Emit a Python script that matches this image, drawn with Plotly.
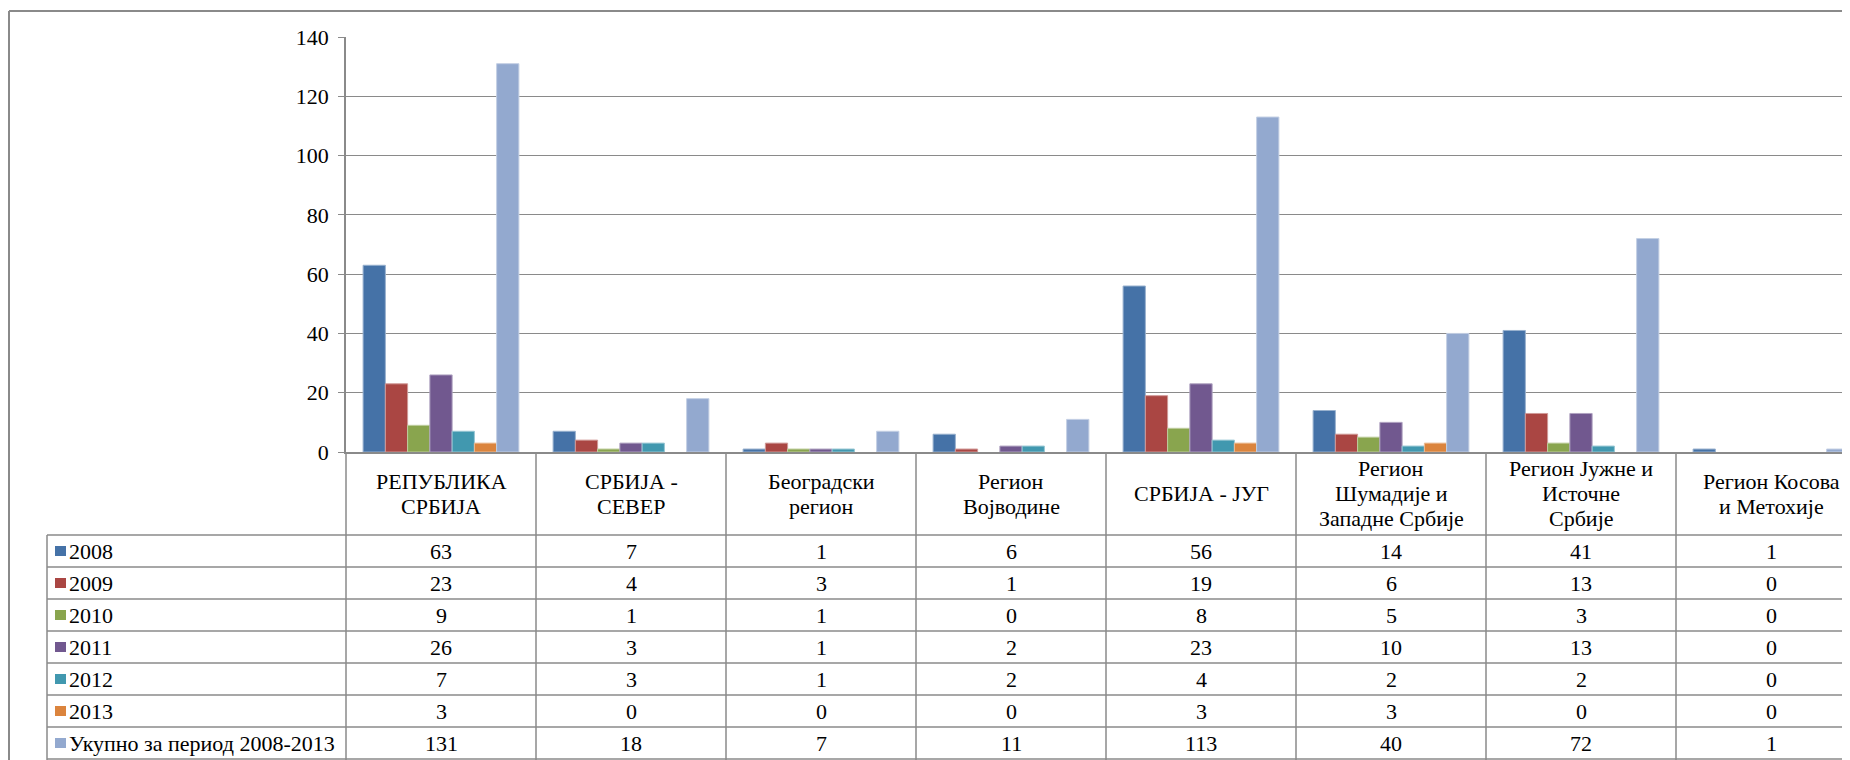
import plotly.graph_objects as go

categories = [
    "РЕПУБЛИКА<br>СРБИЈА",
    "СРБИЈА -<br>СЕВЕР",
    "Београдски<br>регион",
    "Регион<br>Војводине",
    "СРБИЈА - ЈУГ",
    "Регион<br>Шумадије и<br>Западне Србије",
    "Регион Јужне и<br>Источне<br>Србије",
    "Регион Косова<br>и Метохије",
]
series_names = ["2008", "2009", "2010", "2011", "2012", "2013", "Укупно за период 2008-2013"]

v2008 = [63, 7, 1, 6, 56, 14, 41, 1]
v2009 = [23, 4, 3, 1, 19, 6, 13, 0]
v2010 = [9, 1, 1, 0, 8, 5, 3, 0]
v2011 = [26, 3, 1, 2, 23, 10, 13, 0]
v2012 = [7, 3, 1, 2, 4, 2, 2, 0]
v2013 = [3, 0, 0, 0, 3, 3, 0, 0]
v_total = [131, 18, 7, 11, 113, 40, 72, 1]

y_ticks = [0, 20, 40, 60, 80, 100, 120, 140]

series_values = [v2008, v2009, v2010, v2011, v2012, v2013, v_total]
colors = ["#4572A7", "#AA4643", "#89A54E", "#71588F", "#4198AF", "#DB843D", "#93A9CF"]

# page is 1850x760 but the body has an 8px margin, so the figure starts at (8, 8)
OFF = 8
W, H = 1850, 760
AX_L, AX_T, AX_B = 346, 37, 452          # plot area in page pixels
PW, PH = W - AX_L, AX_B - AX_T
FONT = "Liberation Serif"
FSIZE = 22
GREY = "#8a8a8a"


def px(x):
    return (x - AX_L) / PW


def py(y):
    return (AX_B - y) / PH


def lighter(hex_color, amt=0.45):
    r, g, b = (int(hex_color[i:i + 2], 16) for i in (1, 3, 5))
    r, g, b = (int(c + (255 - c) * amt) for c in (r, g, b))
    return f"#{r:02x}{g:02x}{b:02x}"


txt_font = dict(family=FONT, size=FSIZE, color="black")

fig = go.Figure()

for name, vals, col in zip(series_names, series_values, colors):
    fig.add_trace(
        go.Bar(
            x=categories,
            y=vals,
            name=name,
            marker=dict(color=col, line=dict(color=lighter(col), width=[1 if v else 0 for v in vals])),
        )
    )

shapes = []
annotations = []

# outer chart border (cropped on right/bottom)
shapes.append(dict(type="line", xref="paper", yref="paper", x0=px(9), x1=px(1900), y0=py(11), y1=py(11),
                   line=dict(color=GREY, width=2)))
shapes.append(dict(type="line", xref="paper", yref="paper", x0=px(9), x1=px(9), y0=py(11), y1=py(800),
                   line=dict(color=GREY, width=2)))

# data table grid
row_top = 535
row_h = 32
for i in range(len(series_names) + 1):
    y = row_top + i * row_h
    shapes.append(dict(type="line", xref="paper", yref="paper", x0=px(47), x1=px(1900), y0=py(y), y1=py(y),
                       line=dict(color=GREY, width=1.5)))
shapes.append(dict(type="line", xref="paper", yref="paper", x0=px(47), x1=px(47), y0=py(row_top), y1=py(800),
                   line=dict(color=GREY, width=1.5)))
shapes.append(dict(type="line", xref="paper", yref="paper", x0=0, x1=0, y0=0, y1=py(800),
                   line=dict(color=GREY, width=1.5)))
for k in range(len(categories)):
    shapes.append(dict(type="line", xref="x", yref="paper", x0=k + 0.5, x1=k + 0.5, y0=0, y1=py(800),
                       line=dict(color=GREY, width=1.5)))

# category labels in header row, one annotation per line for tighter spacing
line_gap = 25
for cat in categories:
    lines = cat.split("<br>")
    n = len(lines)
    for j, ln in enumerate(lines):
        yc = 493.5 + (j - (n - 1) / 2) * line_gap
        annotations.append(dict(x=cat, xref="x", y=py(yc), yref="paper", text=ln, showarrow=False,
                                xanchor="center", yanchor="middle", font=txt_font))

# rows: legend key, label, values
for i, (name, vals, col) in enumerate(zip(series_names, series_values, colors)):
    yc = row_top + i * row_h + row_h / 2
    shapes.append(dict(type="rect", xref="paper", yref="paper", x0=px(55), x1=px(66), y0=py(yc - 5), y1=py(yc + 5),
                       fillcolor=col, line=dict(width=0)))
    annotations.append(dict(x=px(67), xref="paper", y=py(yc), yref="paper", text=name, showarrow=False,
                            xanchor="left", yanchor="middle", font=txt_font))
    for cat, v in zip(categories, vals):
        annotations.append(dict(x=cat, xref="x", y=py(yc), yref="paper", text=str(v), showarrow=False,
                                xanchor="center", yanchor="middle", font=txt_font))

fig.update_layout(
    width=W - OFF,
    height=H - OFF,
    margin=dict(l=AX_L - OFF, r=0, t=AX_T - OFF, b=H - AX_B, pad=0),
    paper_bgcolor="white",
    plot_bgcolor="white",
    showlegend=False,
    barmode="group",
    bargap=0.18,
    bargroupgap=0,
    shapes=shapes,
    annotations=annotations,
    xaxis=dict(
        type="category",
        range=[-0.5, PW / 190 - 0.5],
        showticklabels=False,
        showgrid=False,
        showline=True,
        linecolor=GREY,
        linewidth=1.5,
        ticks="",
        fixedrange=True,
    ),
    yaxis=dict(
        range=[0, 140],
        tickvals=y_ticks,
        showgrid=True,
        gridcolor=GREY,
        gridwidth=1,
        showline=True,
        linecolor=GREY,
        linewidth=1.5,
        ticks="outside",
        ticklen=6,
        tickcolor=GREY,
        ticklabelstandoff=5,
        tickfont=txt_font,
        zeroline=False,
        fixedrange=True,
    ),
)

fig.write_html("out.html")
